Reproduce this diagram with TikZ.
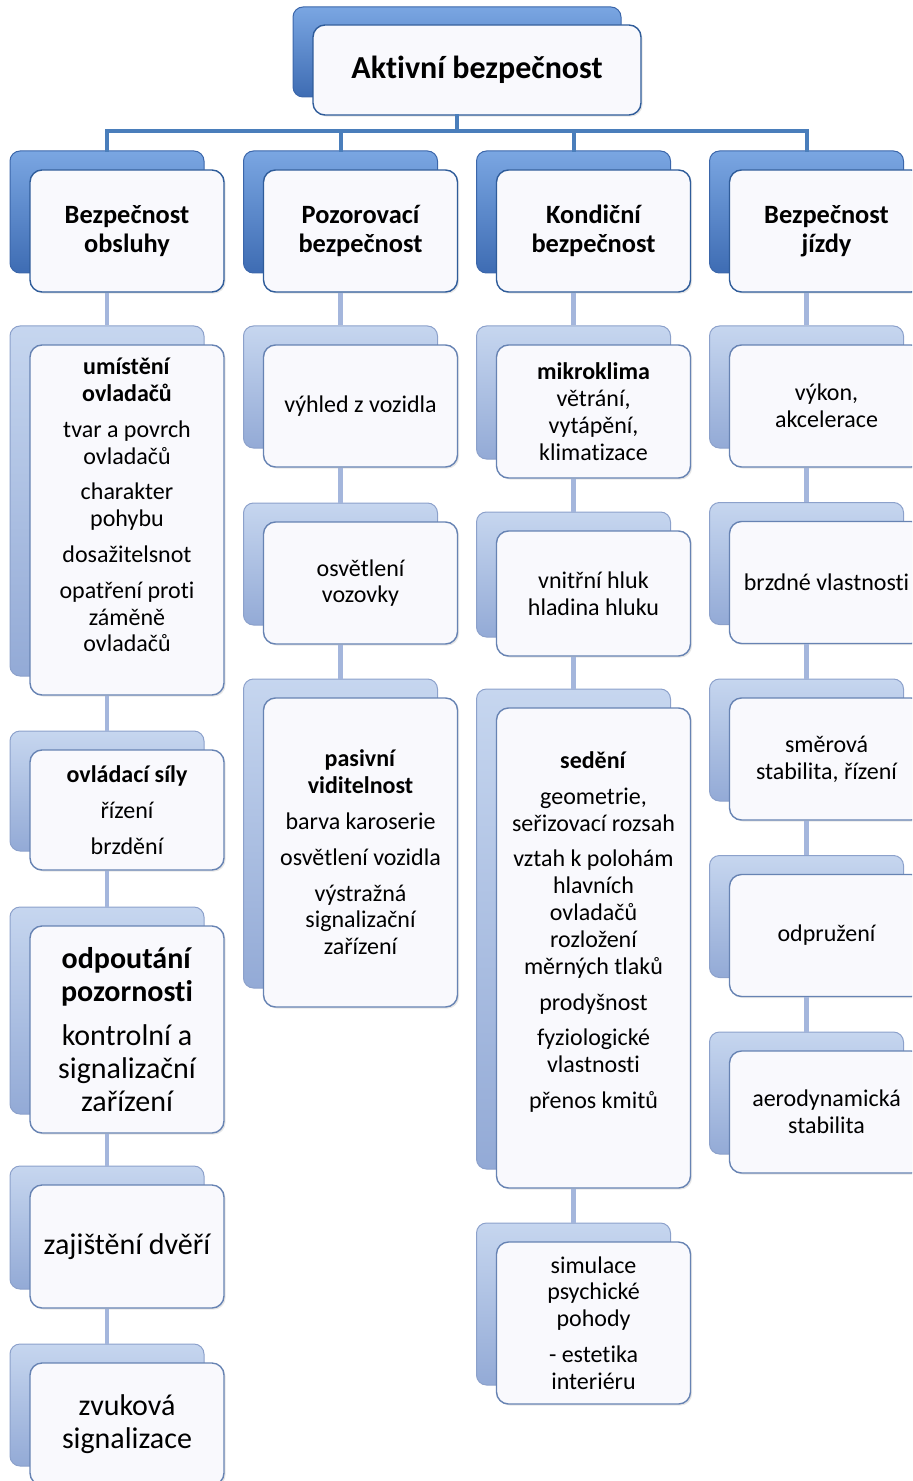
\documentclass[tikz,border=0pt]{standalone}
\usepackage{fontspec}
\setmainfont{Carlito}[Ligatures={NoCommon,NoContextual}]
\usetikzlibrary{shadows}

\definecolor{cardfill}{HTML}{F9F9FD}
\definecolor{cardline}{HTML}{6783B3}
\definecolor{headline}{HTML}{2F5C9A}
\definecolor{tabtop}{HTML}{C6D6EF}
\definecolor{tabbot}{HTML}{93AAD6}
\definecolor{tabline}{HTML}{8CA1CB}
\definecolor{headtabtop}{HTML}{7AA6E2}
\definecolor{headtabbot}{HTML}{3E6CB3}
\definecolor{headtabline}{HTML}{3B66AA}
\definecolor{linkcol}{HTML}{A4B6DC}
\definecolor{headlinkcol}{HTML}{4A7EBB}

\newcommand\plaintext{\fontsize{12}{13.4}\selectfont}
\newcommand\bigtext{\fontsize{15}{16.4}\selectfont}

% #1 name, #2 x, #3 y, #4 height (pt), #5 text
\newcommand\branch[5]{%
    \node[headtab, minimum height=#4] (#1-tab) at (#2-20, #3-19) {};
    \node[headcard, minimum height=#4] (#1) at (#2, #3) {};
    \node[headtext] (#1-txt) at (#1) {#5};
}
% #5 text options, #6 text
\newcommand\leaf[6]{%
    \node[tab, minimum height=#4] (#1-tab) at (#2-20, #3-19) {};
    \node[card, minimum height=#4] (#1) at (#2, #3) {};
    \node[#5] (#1-txt) at (#1) {#6};
}

\tikzset{
    card/.style={draw=cardline, line width=0.7pt, fill=cardfill,
        rounded corners=6pt, minimum width=97pt, inner sep=0pt,
        drop shadow={opacity=0.2, shadow xshift=0.8pt, shadow yshift=-0.8pt}},
    headcard/.style={card, draw=headline},
    tab/.style={draw=tabline, line width=0.5pt, top color=tabtop,
        bottom color=tabbot, rounded corners=5pt, minimum width=97pt},
    headtab/.style={tab, draw=headtabline, top color=headtabtop,
        bottom color=headtabbot},
    headtext/.style={align=center, font=\bfseries\fontsize{13.2}{14.6}\selectfont},
    plain/.style={align=center, font=\plaintext},
    large/.style={align=center, font=\bigtext},
    link/.style={draw=linkcol, line width=2.2pt},
    headlink/.style={draw=headlinkcol, line width=2pt, line cap=rect},
}

\begin{document}
\begin{tikzpicture}[x=0.5pt, y=-0.5pt]
    \useasboundingbox (0, 0) rectangle (912, 1481);
    \clip (0, 0) rectangle (912, 1481);

    % root
    \node[headtab, minimum width=164pt, minimum height=45pt]
        (root-tab) at (457, 52) {};
    \node[headcard, minimum width=164pt, minimum height=45pt,
        font=\bfseries\fontsize{16}{17}\selectfont]
        (root) at (477, 70) {Aktivní bezpečnost};

    % four branches
    \branch{obsluha}{127}{231}{61pt}{Bezpečnost\\obsluhy}
    \branch{pozor}{360.5}{231}{61pt}{Pozorovací\\bezpečnost}
    \branch{kondice}{593.5}{231}{61pt}{Kondiční\\bezpečnost}
    \branch{jizda}{826.5}{231}{61pt}{Bezpečnost\\jízdy}

    \coordinate (bar) at (0, 131);
    \draw[headlink] (root.south -| root-tab) -- (root-tab |- bar);
    \draw[headlink] (obsluha-tab |- bar) -- (jizda-tab |- bar);
    \foreach \col in {obsluha, pozor, kondice, jizda}
        \draw[headlink] (\col-tab |- bar) -- (\col-tab.north);

    % Bezpecnost obsluhy
    \leaf{umisteni}{127}{520}{175pt}{plain, yshift=7.5pt}{\textbf{umístění}\\\textbf{ovladačů}\\[4.5pt]tvar a povrch\\ovladačů\\[4.5pt]charakter\\pohybu\\[4.5pt]dosažitelsnot\\[4.5pt]opatření proti\\záměně\\ovladačů}
    \leaf{sily}{127}{810}{60pt}{plain}{\textbf{ovládací síly}\\[4.5pt]řízení\\[4.5pt]brzdění}
    \leaf{odpoutani}{127}{1029.5}{103.5pt}{large}{\textbf{odpoutání}\\\textbf{pozornosti}\\[6pt]kontrolní a\\signalizační\\zařízení}
    \leaf{zajisteni}{127}{1246.5}{61.5pt}{large}{zajištění dvěří}
    \leaf{zvukova}{127}{1424}{61pt}{large}{zvuková\\signalizace}

    % Pozorovaci bezpecnost
    \leaf{vyhled}{360.5}{406}{61pt}{plain}{výhled z vozidla}
    \leaf{osvetleni}{360.5}{583}{61pt}{plain}{osvětlení\\vozovky}
    \leaf{pasivni}{360.5}{852.5}{154.5pt}{plain}{\textbf{pasivní}\\\textbf{viditelnost}\\[4.5pt]barva karoserie\\[4.5pt]osvětlení vozidla\\[4.5pt]výstražná\\signalizační\\zařízení}

    % Kondicni bezpecnost
    \leaf{mikroklima}{593.5}{411.5}{66.5pt}{plain}{\textbf{mikroklima}\\větrání,\\vytápění,\\klimatizace}
    \leaf{hluk}{593.5}{593.5}{62.5pt}{plain}{vnitřní hluk\\hladina hluku}
    \leaf{sedeni}{593.5}{948}{240pt}{plain, yshift=8pt}{\textbf{sedění}\\[4.5pt]geometrie,\\seřizovací rozsah\\[4.5pt]vztah k polohám\\hlavních\\ovladačů\\rozložení\\měrných tlaků\\[4.5pt]prodyšnost\\[4.5pt]fyziologické\\vlastnosti\\[4.5pt]přenos kmitů}
    \leaf{simulace}{593.5}{1323}{81pt}{plain}{simulace\\psychické\\pohody\\[4.5pt]- estetika\\interiéru}

    % Bezpecnost jizdy
    \leaf{vykon}{826.5}{406}{61pt}{plain}{výkon,\\akcelerace}
    \leaf{brzdne}{826.5}{582.5}{61pt}{plain}{brzdné vlastnosti}
    \leaf{smerova}{826.5}{759}{61pt}{plain}{směrová\\stabilita, řízení}
    \leaf{odpruzeni}{826.5}{935.5}{61pt}{plain}{odpružení}
    \leaf{aero}{826.5}{1112}{61pt}{plain}{aerodynamická\\stabilita}

    % links down each column
    \foreach \from/\to in {obsluha/umisteni, umisteni/sily, sily/odpoutani,
        odpoutani/zajisteni, zajisteni/zvukova,
        pozor/vyhled, vyhled/osvetleni, osvetleni/pasivni,
        kondice/mikroklima, mikroklima/hluk, hluk/sedeni, sedeni/simulace,
        jizda/vykon, vykon/brzdne, brzdne/smerova, smerova/odpruzeni,
        odpruzeni/aero}
        \draw[link] (\from.south -| \to-tab) -- (\to-tab.north);
\end{tikzpicture}
\end{document}
